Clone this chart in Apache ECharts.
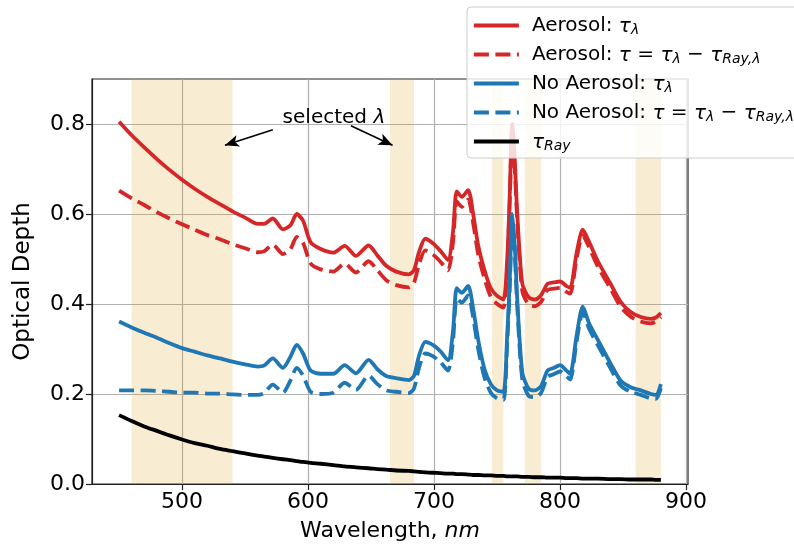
<!DOCTYPE html>
<html>
<head>
<meta charset="utf-8">
<script src="https://cdn.jsdelivr.net/npm/echarts@6/dist/echarts.min.js"></script>
<style>
html,body{margin:0;padding:0;background:#fff;}
#chart{width:794px;height:550px;}
</style>
</head>
<body>
<div id="chart"></div>
<script>
const wavelengths = [450,460,470,480,490,500,510,520,530,540,550,560,565,572,580,586,591,596,602,610,620,629,638,648,655,662,670,680,684,688,693,699,705,711,715,718,722,727,731,735,740,745,750,755,758,760,762,764,766,770,775,780,785,790,795,800,805,808,813,818,823,830,840,848,856,864,872,876,880];
const aerosolTau = [0.805,0.775,0.748,0.722,0.698,0.676,0.656,0.638,0.622,0.606,0.592,0.578,0.578,0.590,0.566,0.575,0.600,0.585,0.537,0.522,0.514,0.529,0.507,0.530,0.508,0.485,0.472,0.466,0.475,0.515,0.545,0.535,0.518,0.498,0.560,0.650,0.638,0.653,0.600,0.530,0.475,0.435,0.418,0.410,0.500,0.640,0.800,0.720,0.600,0.445,0.415,0.410,0.420,0.445,0.448,0.450,0.440,0.436,0.512,0.565,0.538,0.495,0.445,0.405,0.382,0.371,0.367,0.370,0.380];
const aerosolTauCorr = [0.652,0.635,0.620,0.604,0.590,0.577,0.565,0.553,0.544,0.533,0.524,0.515,0.517,0.532,0.511,0.522,0.549,0.536,0.490,0.477,0.472,0.490,0.470,0.495,0.475,0.453,0.442,0.437,0.447,0.488,0.519,0.510,0.494,0.475,0.537,0.628,0.616,0.632,0.580,0.510,0.456,0.416,0.400,0.392,0.483,0.623,0.783,0.703,0.583,0.429,0.399,0.395,0.405,0.431,0.434,0.436,0.427,0.423,0.499,0.553,0.526,0.483,0.434,0.394,0.372,0.361,0.357,0.361,0.371];
const noAerosolTau = [0.361,0.348,0.336,0.325,0.313,0.302,0.294,0.286,0.279,0.272,0.266,0.261,0.263,0.279,0.258,0.283,0.309,0.290,0.252,0.245,0.245,0.264,0.246,0.276,0.255,0.240,0.235,0.231,0.240,0.285,0.316,0.309,0.295,0.275,0.340,0.435,0.425,0.440,0.390,0.320,0.255,0.222,0.208,0.205,0.330,0.450,0.600,0.530,0.410,0.248,0.212,0.208,0.218,0.252,0.258,0.264,0.252,0.245,0.328,0.394,0.357,0.320,0.268,0.230,0.215,0.208,0.200,0.198,0.222];
const noAerosolTauCorr = [0.208,0.208,0.208,0.207,0.205,0.203,0.203,0.201,0.201,0.199,0.198,0.198,0.202,0.221,0.203,0.230,0.258,0.241,0.205,0.200,0.203,0.225,0.209,0.241,0.222,0.208,0.205,0.202,0.212,0.258,0.290,0.284,0.271,0.252,0.317,0.413,0.403,0.419,0.370,0.300,0.236,0.203,0.190,0.187,0.313,0.433,0.583,0.513,0.393,0.232,0.196,0.193,0.203,0.238,0.244,0.250,0.239,0.232,0.315,0.382,0.345,0.308,0.257,0.219,0.205,0.198,0.190,0.189,0.213];
const rayleighTau = [0.153,0.140,0.128,0.118,0.108,0.099,0.091,0.085,0.078,0.073,0.068,0.063,0.061,0.058,0.055,0.053,0.051,0.049,0.047,0.045,0.042,0.039,0.037,0.035,0.033,0.032,0.030,0.029,0.028,0.027,0.026,0.025,0.024,0.023,0.023,0.022,0.022,0.021,0.020,0.020,0.019,0.019,0.018,0.018,0.017,0.017,0.017,0.017,0.017,0.016,0.016,0.015,0.015,0.014,0.014,0.014,0.013,0.013,0.013,0.012,0.012,0.012,0.011,0.011,0.010,0.010,0.010,0.009,0.009];
const selectedBands = [[460,540],[665,684],[746,755],[772,785],[860,880]];
const xTicks = [500,600,700,800,900];
const yTicks = [0,0.2,0.4,0.6,0.8];
const seriesNames = ['Aerosol: τλ','Aerosol: τ = τλ − τRay,λ','No Aerosol: τλ','No Aerosol: τ = τλ − τRay,λ','τRay'];
const legendRich = {
  'Aerosol: τλ': 'Aerosol: {m|τ}{s|λ}',
  'Aerosol: τ = τλ − τRay,λ': 'Aerosol: {m|τ} = {m|τ}{s|λ} − {m|τ}{s|Ray,λ}',
  'No Aerosol: τλ': 'No Aerosol: {m|τ}{s|λ}',
  'No Aerosol: τ = τλ − τRay,λ': 'No Aerosol: {m|τ} = {m|τ}{s|λ} − {m|τ}{s|Ray,λ}',
  'τRay': '{m|τ}{s|Ray}'
};
const annotationLabel = [620.5, 0.814];
const annotationArrows = [[[572,0.787],[534,0.753]],[[634,0.796],[667,0.753]]];

const FONT = 'DejaVu Sans';
const pair = arr => wavelengths.map((w, i) => [w, arr[i]]);
const RED = '#d62728', BLUE = '#1f77b4';
const LW = 3.8;
const dash = [15, 6.5];

const chart = echarts.init(document.getElementById('chart'), null, {renderer: 'canvas'});
const lineSeries = (name, arr, color, dashed) => ({
  name, type: 'line', data: pair(arr), showSymbol: false, symbol: 'none', smooth: 0.25,
  lineStyle: {color, width: LW, type: dashed ? dash : 'solid', cap: 'butt', join: 'round'},
  itemStyle: {color}, z: 3, animation: false
});

const option = {
  animation: false,
  textStyle: {fontFamily: FONT},
  grid: {left: 92, right: 106, top: 79, bottom: 66, show: true, borderColor: '#222', borderWidth: 1.2, backgroundColor: 'transparent'},
  xAxis: {
    type: 'value', min: 428.5, max: 901.5,
    name: 'Wavelength, {i|nm}', nameLocation: 'middle', nameGap: 36,
    nameTextStyle: {fontSize: 22, color: '#000', fontFamily: FONT, rich: {i: {fontSize: 22, fontStyle: 'italic', fontFamily: FONT, color: '#000'}}},
    axisLine: {show: true, onZero: false, lineStyle: {color: '#222', width: 1.2}},
    axisTick: {show: true, length: 6, inside: false, customValues: xTicks, lineStyle: {color: '#222', width: 1.2}},
    axisLabel: {customValues: xTicks, fontSize: 22, color: '#000', margin: 7, fontFamily: FONT},
    splitLine: {show: true, lineStyle: {color: '#b0b0b0', width: 1.2}}
  },
  yAxis: {
    type: 'value', min: 0, max: 0.9,
    name: 'Optical Depth', nameLocation: 'middle', nameGap: 57, nameRotate: 90,
    nameTextStyle: {fontSize: 23, color: '#000', fontFamily: FONT},
    axisLine: {show: true, onZero: false, lineStyle: {color: '#222', width: 1.2}},
    axisTick: {show: true, length: 6, customValues: yTicks, lineStyle: {color: '#222', width: 1.2}},
    axisLabel: {customValues: yTicks, fontSize: 22, color: '#000', margin: 7, fontFamily: FONT, formatter: v => v.toFixed(1)},
    splitLine: {show: true, lineStyle: {color: '#b0b0b0', width: 1.2}}
  },
  legend: {
    data: seriesNames, orient: 'vertical', left: 467, top: 7,
    padding: [7, 30, 5, 5], itemWidth: 45, itemHeight: 14, itemGap: 6,
    backgroundColor: 'rgba(255,255,255,0.82)', borderColor: '#cccccc', borderWidth: 1, borderRadius: 4,
    itemStyle: {opacity: 0, borderWidth: 0},
    lineStyle: {width: LW},
    formatter: name => legendRich[name],
    textStyle: {fontSize: 20, color: '#000', fontFamily: FONT, padding: [0, 0, 0, 8], lineHeight: 23,
      rich: {
        m: {fontSize: 20, fontStyle: 'italic', fontFamily: FONT, color: '#000', verticalAlign: 'bottom', lineHeight: 23},
        s: {fontSize: 14, fontStyle: 'italic', fontFamily: FONT, color: '#000', verticalAlign: 'bottom', lineHeight: 18, padding: [8, 0, 0, 0]}
      }
    },
    z: 10
  },
  series: [
    {
      name: 'bands', type: 'line', data: [], silent: true, z: 1,
      markArea: {silent: true, itemStyle: {color: 'rgba(218,165,32,0.2)'},
        data: selectedBands.map(b => [{xAxis: b[0]}, {xAxis: b[1]}])}
    },
    lineSeries(seriesNames[0], aerosolTau, RED, false),
    lineSeries(seriesNames[1], aerosolTauCorr, RED, true),
    lineSeries(seriesNames[2], noAerosolTau, BLUE, false),
    lineSeries(seriesNames[3], noAerosolTauCorr, BLUE, true),
    Object.assign(lineSeries(seriesNames[4], rayleighTau, '#000', false), {
      markLine: {silent: true, symbol: ['none', 'arrow'], symbolSize: [9, 14],
        lineStyle: {color: '#000', width: 1.6, type: 'solid'}, label: {show: false},
        data: annotationArrows.map(a => [{coord: a[0]}, {coord: a[1]}])},
      markPoint: {silent: true, symbol: 'circle', symbolSize: 0,
        data: [{coord: annotationLabel}],
        label: {show: true, position: 'inside', formatter: 'selected {i|λ}', fontSize: 20, color: '#000', fontFamily: FONT,
          rich: {i: {fontStyle: 'italic', fontSize: 20, fontFamily: FONT, color: '#000'}}}}
    })
  ]
};
chart.setOption(option);
</script>
</body>
</html>
